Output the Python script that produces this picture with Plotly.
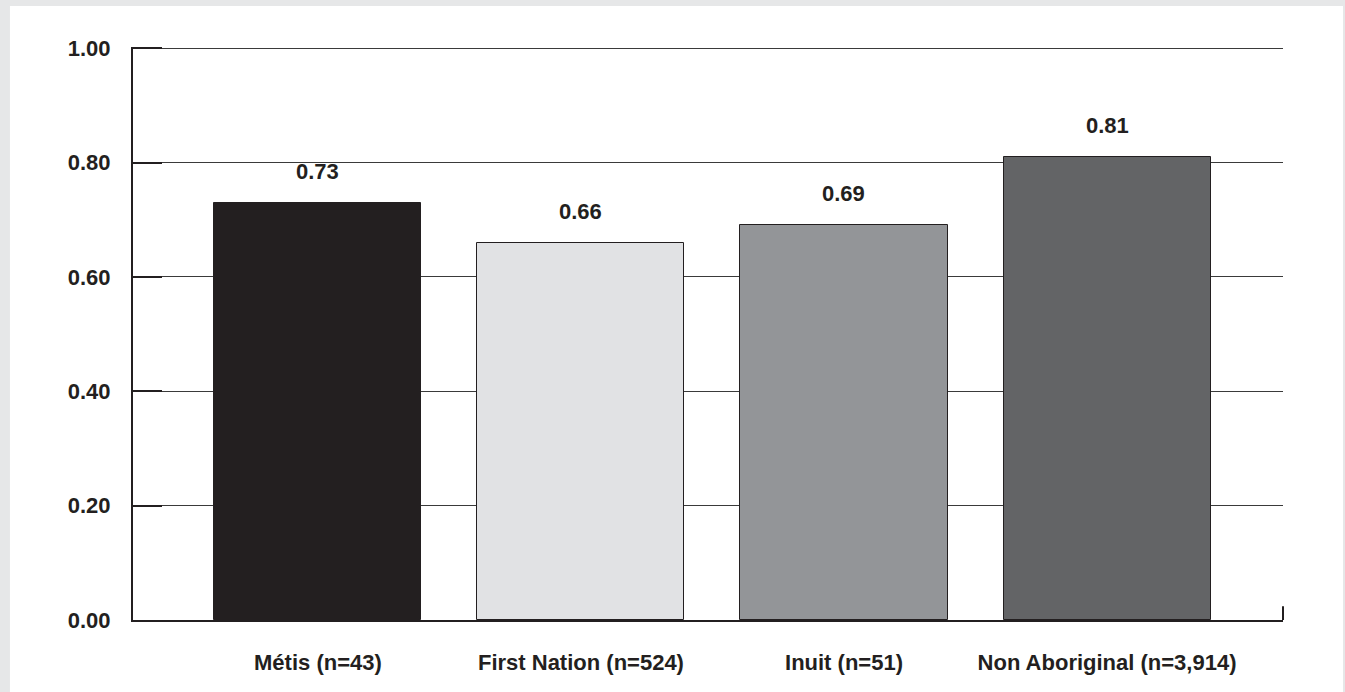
import plotly.graph_objects as go

# Ratio by identity group
categories = ["Métis (n=43)", "First Nation (n=524)", "Inuit (n=51)", "Non Aboriginal (n=3,914)"]
values = [0.73, 0.66, 0.69, 0.81]
bar_colors = ["#231f20", "#e1e2e4", "#939598", "#636466"]
y_ticks = [0.0, 0.2, 0.4, 0.6, 0.8, 1.0]

INK = "#231f20"
NUM_FONT = dict(family="Liberation Sans, Arial, sans-serif", size=22, color=INK, weight="bold")
CAT_FONT = dict(family="Liberation Sans Narrow, Arial Narrow, sans-serif", size=22, color=INK, weight="bold")

fig = go.Figure()
fig.add_trace(go.Bar(
    x=categories,
    y=values,
    width=0.787,
    marker=dict(color=bar_colors, line=dict(color=INK, width=1)),
    hoverinfo="skip",
))

# value labels above the bars
for cat, val in zip(categories, values):
    fig.add_annotation(
        x=cat, y=val, text=f"{val:.2f}", showarrow=False,
        yanchor="bottom", yshift=17, font=NUM_FONT,
    )

# white card on a light grey frame
fig.add_shape(type="rect", xref="paper", yref="paper",
              x0=-0.107, x1=1.0522, y0=-0.2, y1=1.0717,
              fillcolor="white", line=dict(width=0), layer="below")
# small closing tick at the right end of the baseline
fig.add_shape(type="line", xref="x domain", yref="y",
              x0=1, x1=1, y0=0, y1=0.024,
              line=dict(color=INK, width=2))

fig.update_layout(
    width=1345, height=692,
    margin=dict(l=133, r=62, t=47, b=72),
    paper_bgcolor="#e6e7e8",
    plot_bgcolor="rgba(0,0,0,0)",
    showlegend=False,
    bargap=0,
)
fig.update_xaxes(
    range=[-0.703, 3.669],
    showline=True, linecolor=INK, linewidth=2,
    ticks="", showgrid=False,
    tickfont=CAT_FONT, ticklabelstandoff=22,
)
fig.update_yaxes(
    range=[0, 1.002], tickvals=y_ticks, tickformat=".2f",
    showline=True, linecolor=INK, linewidth=2,
    ticks="inside", ticklen=29, tickwidth=2, tickcolor=INK,
    showgrid=True, gridcolor="#3a3a3a", gridwidth=1,
    zeroline=False,
    tickfont=NUM_FONT, ticklabelstandoff=16,
)

fig.write_html("out.html")
